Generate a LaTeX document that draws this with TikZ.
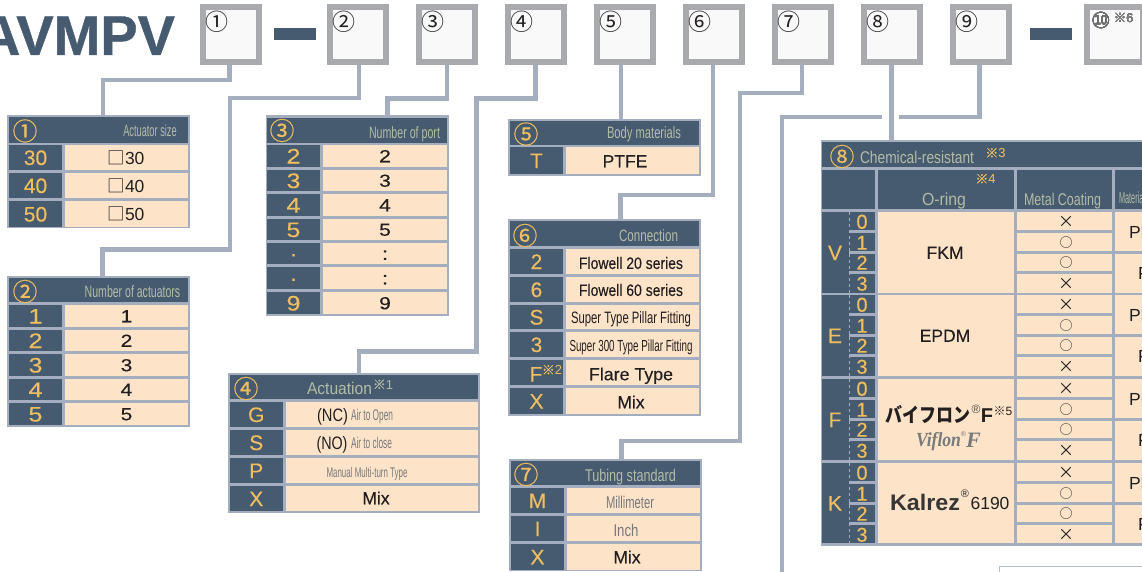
\documentclass[tikz,border=0pt]{standalone}
\usepackage{graphicx}
\usepackage{fontspec}
\setmainfont{Liberation Sans}
\newfontfamily\cjk{Noto Sans CJK JP}
\newfontfamily\cjkm[FakeBold=0.3]{Noto Sans CJK JP}
\newfontfamily\med[FakeBold=0.25]{Liberation Sans}
\newfontfamily\ttl[UprightFont={* Bold},FakeBold=0.7]{Liberation Sans}
\newfontfamily\vifl{Liberation Serif}
\newfontfamily\djv{DejaVu Sans}
\definecolor{dk}{HTML}{465B6F}
\definecolor{org}{HTML}{EFBE60}
\definecolor{pale}{HTML}{FDE3C8}
\definecolor{rim}{HTML}{A5AEBE}
\definecolor{boxg}{HTML}{A9AAAE}
\definecolor{boxf}{HTML}{F9F9F9}
\definecolor{hdt}{HTML}{B4BBA6}
\definecolor{ink}{HTML}{231F20}
\definecolor{gtx}{HTML}{77797B}
\newcounter{tc}
\tikzset{
  conn/.style={draw=rim,line width=4.5pt,line cap=butt,line join=miter},
  numbox/.style={draw=boxg,fill=boxf,line width=6pt,minimum width=56pt,minimum height=55pt,inner sep=0pt},
  cellb/.style={inner sep=0pt,outer sep=0pt},
  dash box/.style={fill=dk,inner sep=0pt,outer sep=0pt,minimum width=42pt,minimum height=12pt},
  sep/.style={draw=rim,line width=3pt},
  dots/.style={draw=rim,line width=1pt,dash pattern=on 3pt off 3pt}
}
\newcommand{\rct}[6]{\node[cellb,fill=#6,minimum width={(#4)-(#2)},minimum height={(#5)-(#3)}] (#1) at ({((#2)+(#4))/2},{((#3)+(#5))/2}) {};}
\newcommand{\txt}[5]{\stepcounter{tc}\node[cellb,anchor=base,text=#3,font=\fontsize{#4}{#4}\selectfont] (tx\arabic{tc}) at ({#1},{(#2)+0.358*(#4)}) {#5};}
\newcommand{\fw}[2]{\resizebox{#1pt}{\height}{#2}}
\newcommand{\wx}[1]{\scalebox{1.2}[1]{#1}}
\newcommand{\setcols}[4]{\def\ca{#1}\def\cb{#2}\def\cc{#3}\def\cd{#4}}
\newcommand{\rowc}[5]{\rct{#1k}{\ca}{#2}{\cb}{#3}{dk}\rct{#1v}{\cc}{#2}{\cd}{#3}{pale}
  \txt{(\ca+\cb)/2}{(#2+#3)/2}{org}{21}{\wx{\med #4}}
  \txt{(\cc+\cd)/2}{(#2+#3)/2}{ink}{17.5}{\wx{\med #5}}}
\newcommand{\keyonly}[4]{\rct{#1k}{\ca}{#2}{\cb}{#3}{dk}\rct{#1v}{\cc}{#2}{\cd}{#3}{pale}
  \txt{(\ca+\cb)/2}{(#2+#3)/2}{org}{21}{\med #4}}
\begin{document}
\begin{tikzpicture}[x=1pt,y=-1pt]
\useasboundingbox (0,0) rectangle (1142,572);
\clip (0,0) rectangle (1142,572);
% title
\node[cellb,anchor=base east,text=dk,font=\fontsize{56}{56}\selectfont\ttl] (title) at (175,55) {AVMPV};
% number boxes
\foreach \n/\xx in {b1/231,b2/358,b3/447,b4/535.5,b5/624.5,b6/714,b7/802.5,b8/891.5,b9/981,b10/1115}
  \node[numbox] (\n) at (\xx,34.5) {};
\node[dash box] (d1) at (295,34) {};
\node[dash box] (d2) at (1051,34) {};
\foreach \xx/\s in {217/①,344/②,433/③,522/④,611/⑤,700/⑥,789/⑦,878/⑧,967/⑨}
  \txt{\xx}{22}{ink}{23}{\cjk \s}
\txt{1101}{20.5}{ink!65!white}{22}{\djv ⑩}
\txt{1123.5}{18.5}{ink!60!white}{12.5}{{\cjk ※}6}
% tables: outer frames
\rct{t1}{7}{115}{190}{228}{rim}
\rct{t2}{7}{276}{190}{427}{rim}
\rct{t3}{265.5}{115.5}{449}{316}{rim}
\rct{t4}{227.5}{372.5}{479.5}{513}{rim}
\rct{t5}{508}{119}{701}{176}{rim}
\rct{t6}{508}{219}{701}{416}{rim}
\rct{t7}{509}{458.5}{701.5}{571}{rim}
\rct{t8}{820.5}{140}{1160}{545.5}{rim}
% connectors
\coordinate (k1) at (103,80);
\draw[conn] ([xshift=-1.5pt]b1.south) |- (k1) -- (k1 |- t1.north);
\coordinate (k2a) at (230,98);
\coordinate (k2b) at (102.5,249.5);
\draw[conn] ([xshift=1pt]b2.south) |- (k2a) |- (k2b) -- (k2b |- t2.north);
\coordinate (k3) at (387.5,98.5);
\draw[conn] (b3.south) |- (k3) -- (k3 |- t3.north);
\coordinate (k4a) at (476.5,98.5);
\coordinate (k4b) at (359,351.5);
\draw[conn] (b4.south) |- (k4a) |- (k4b) -- (k4b |- t4.north);
\draw[conn] ([xshift=-3.5pt]b5.south) -- ([xshift=-3.5pt]b5.south |- t5.north);
\coordinate (k6) at (620.5,195);
\draw[conn] ([xshift=-1pt]b6.south) |- (k6) -- (k6 |- t6.north);
\coordinate (k7a) at (740,93);
\coordinate (k7b) at (621.5,441);
\draw[conn] ([xshift=-.5pt]b7.south) |- (k7a) |- (k7b) -- (k7b |- t7.north);
\draw[conn] (b8.south) -- (b8.south |- t8.north);
\coordinate (k9a) at (899,117);
\coordinate (k9b) at (882,117);
\coordinate (k9c) at (782,117);
\coordinate (k9d) at (782,572);
\draw[conn] ([xshift=-1.5pt]b9.south) |- (k9a);
\draw[conn] (k9b) -- (k9c) -- (k9d);
% table 1
\rct{h1}{9}{117}{188}{143}{dk}
\txt{25}{131.5}{org}{25}{\cjkm ①}
\txt{150}{131}{hdt}{16.5}{\fw{53.5}{Actuator size}}
\setcols{9}{62}{65}{188}
\keyonly{a1}{145}{170}{30}
\keyonly{a2}{173}{198}{40}
\keyonly{a3}{201}{227}{50}
\txt{126}{158}{ink}{17.5}{{\cjk □}30}
\txt{126}{186}{ink}{17.5}{{\cjk □}40}
\txt{126}{214}{ink}{17.5}{{\cjk □}50}
% table 2
\rct{h2}{9}{278}{188}{302}{dk}
\txt{25}{292}{org}{25}{\cjkm ②}
\txt{132.5}{292}{hdt}{16.5}{\fw{95.5}{Number of actuators}}
\rowc{c1}{305}{327}{1}{1}
\rowc{c2}{330}{351}{2}{2}
\rowc{c3}{354}{376}{3}{3}
\rowc{c4}{379}{400}{4}{4}
\rowc{c5}{403}{425}{5}{5}
% table 3
\rct{h3}{267}{118}{447}{143}{dk}
\txt{282}{131}{org}{25}{\cjkm ③}
\txt{404.5}{133}{hdt}{16.5}{\fw{71}{Number of port}}
\setcols{267}{320}{323}{447}
\rowc{e1}{145}{167}{2}{2}
\rowc{e2}{170}{191}{3}{3}
\rowc{e3}{194}{216}{4}{4}
\rowc{e4}{219}{240}{5}{5}
\rowc{e5}{243}{264}{\textperiodcentered}{:}
\rowc{e6}{267}{289}{\textperiodcentered}{:}
\rowc{e7}{292}{314}{9}{9}
% table 4
\rct{h4}{229.5}{375}{478}{399}{dk}
\txt{246}{389}{org}{25}{\cjkm ④}
\txt{339.5}{388}{hdt}{17}{\fw{65}{Actuation}}
\txt{383}{384.5}{hdt}{13}{{\cjkm ※}1}
\setcols{229.5}{283}{286}{478}
\keyonly{g1}{402}{427}{G}
\keyonly{g2}{430}{455}{S}
\keyonly{g3}{458}{483}{P}
\keyonly{g4}{486}{511}{X}
\txt{332.5}{415}{ink}{18}{\fw{31}{(NC)}}
\txt{372}{415}{gtx}{15.5}{\fw{42}{Air to Open}}
\txt{332}{443}{ink}{18}{\fw{31}{(NO)}}
\txt{371.5}{443}{gtx}{15.5}{\fw{41}{Air to close}}
\txt{367}{472}{gtx}{14}{\fw{81}{Manual Multi-turn Type}}
\txt{376}{498}{ink}{17.5}{\med Mix}
% table 5
\rct{h5}{510}{121}{699}{145}{dk}
\txt{526}{134.5}{org}{25}{\cjkm ⑤}
\txt{644}{133}{hdt}{16.5}{\fw{74}{Body materials}}
\setcols{510}{563}{566}{699}
\keyonly{p1}{147}{174}{T}
\txt{625}{161}{ink}{17.5}{\med PTFE}
% table 6
\rct{h6}{510}{221}{699}{246}{dk}
\txt{525}{236}{org}{25}{\cjkm ⑥}
\txt{648.5}{236}{hdt}{16.5}{\fw{59}{Connection}}
\keyonly{q1}{249}{274}{2}
\keyonly{q2}{277}{302}{6}
\keyonly{q3}{305}{329}{S}
\keyonly{q4}{332}{357}{3}
\rct{q5k}{510}{360}{563}{385}{dk}\rct{q5v}{566}{360}{699}{385}{pale}
\txt{536}{374}{org}{21}{\med F}
\txt{552}{370}{org}{13}{{\cjkm ※}2}
\keyonly{q6}{388}{414}{X}
\txt{631}{263}{ink}{16.5}{\fw{104}{\med Flowell 20 series}}
\txt{631}{290}{ink}{16.5}{\fw{104}{\med Flowell 60 series}}
\txt{631}{318}{ink}{16.5}{\fw{120}{Super Type Pillar Fitting}}
\txt{631}{346}{ink}{16}{\fw{123}{Super 300 Type Pillar Fitting}}
\txt{631}{374}{ink}{17.5}{\fw{84}{\med Flare Type}}
\txt{631}{402}{ink}{17.5}{\med Mix}
% table 7
\rct{h7}{511}{461}{699.5}{485}{dk}
\txt{526}{475}{org}{25}{\cjkm ⑦}
\txt{630.5}{475}{hdt}{17}{\fw{91}{Tubing standard}}
\setcols{511}{564}{567}{699.5}
\keyonly{r1}{488}{513}{M}
\keyonly{r2}{516}{541}{I}
\keyonly{r3}{544}{569.5}{X}
\txt{630}{502}{gtx}{17}{\fw{48}{Millimeter}}
\txt{626}{530}{gtx}{17}{\fw{25}{Inch}}
\txt{627}{557}{ink}{17.5}{\med Mix}
% table 8
\rct{h8}{822}{142}{1160}{167}{dk}
\txt{842}{157}{org}{25}{\cjkm ⑧}
\txt{917}{157}{hdt}{17}{\fw{114}{Chemical-resistant}}
\txt{995.5}{153}{org}{13}{{\cjkm ※}3}
\rct{s1}{822}{170}{875}{209}{dk}
\rct{s2}{878}{170}{1014}{209}{dk}
\rct{s3}{1017}{170}{1112}{209}{dk}
\rct{s4}{1115}{170}{1160}{209}{dk}
\txt{985.5}{179}{org}{13}{{\cjkm ※}4}
\txt{944}{199}{hdt}{17.5}{\fw{44}{O-ring}}
\txt{1062.5}{199}{hdt}{17}{\fw{77}{Metal Coating}}
\node[cellb,anchor=base west,text=hdt,font=\fontsize{16}{16}\selectfont] (mat) at (1119,204) {\fw{26}{Material}};
\foreach \g/\ys/\ye/\lt/\ot in {V/212/293/V/FKM,E/295/376/E/EPDM,F/379/460/F/,K/463/543/K/}{
  \rct{g\g k}{822}{\ys}{875}{\ye}{dk}
  \rct{g\g o}{878}{\ys}{1014}{\ye}{pale}
  \txt{835}{(\ys+\ye)/2}{org}{21}{\med \lt}
  \txt{945}{(\ys+\ye)/2}{ink}{17.5}{\med \ot}
  \draw[dots] (849,\ys) -- (849,\ye);
  \rct{g\g m1}{1017}{\ys}{1112}{\ys+18}{pale}
  \rct{g\g m2}{1017}{\ys+21}{1112}{\ys+38.5}{pale}
  \rct{g\g m3}{1017}{\ys+41.5}{1112}{\ys+59}{pale}
  \rct{g\g m4}{1017}{\ys+62}{1112}{\ye}{pale}
  \rct{g\g p1}{1115}{\ys}{1160}{\ys+39}{pale}
  \rct{g\g p2}{1115}{\ys+42}{1160}{\ye}{pale}
  \draw[sep] (849,\ys+19.5) -- (875,\ys+19.5);
  \draw[sep] (849,\ys+40) -- (875,\ys+40);
  \draw[sep] (849,\ys+60.5) -- (875,\ys+60.5);
  \txt{862}{\ys+9.5}{org}{20}{\med 0}
  \txt{862}{\ys+30.5}{org}{20}{\med 1}
  \txt{862}{\ys+50.5}{org}{20}{\med 2}
  \txt{862}{\ys+71.5}{org}{20}{\med 3}
  \txt{1066}{\ys+9.5}{ink}{16}{\cjk ×}
  \txt{1066}{\ys+30.5}{ink}{13}{\cjk ○}
  \txt{1066}{\ys+50.5}{ink}{13}{\cjk ○}
  \txt{1066}{\ys+71.5}{ink}{16}{\cjk ×}
  \node[cellb,anchor=base west,text=ink,font=\fontsize{17.5}{17.5}\selectfont] (\g pa) at (1129,\ys+26) {PF};
  \node[cellb,anchor=base west,text=ink,font=\fontsize{17.5}{17.5}\selectfont] (\g pb) at (1138,\ys+67) {P};
}
\node[cellb,anchor=base west,text=ink,font=\fontsize{20}{20}\selectfont\cjk\bfseries] (vk) at (885,422) {\fw{85}{バイフロン}};
\txt{976}{409}{ink!80!white}{12}{®}
\txt{987}{415}{ink}{20}{\bfseries F}
\txt{1003}{411}{ink}{12}{{\cjk ※}5}
\node[cellb,anchor=base west,text=gtx,font=\fontsize{20}{20}\selectfont\vifl\bfseries\itshape] (vf) at (916,446) {\fw{45}{Viflon}};
\txt{963.5}{434}{gtx}{7}{®}
\txt{973.5}{440}{gtx}{22}{\vifl\bfseries\itshape F}
\node[cellb,anchor=base west,text=ink!90!white,font=\fontsize{22.5}{22.5}\selectfont\bfseries] (kz) at (890,510) {\fw{70}{Kalrez}};
\txt{965}{494}{ink!80!white}{11}{\bfseries ®}
\txt{990}{503}{ink}{17.5}{6190}
% white note frame
\node[cellb,draw=rim!80!white,line width=1pt,fill=white,minimum width=200pt,minimum height=30pt,anchor=north west] (note) at (999.5,566) {};
\end{tikzpicture}
\end{document}
